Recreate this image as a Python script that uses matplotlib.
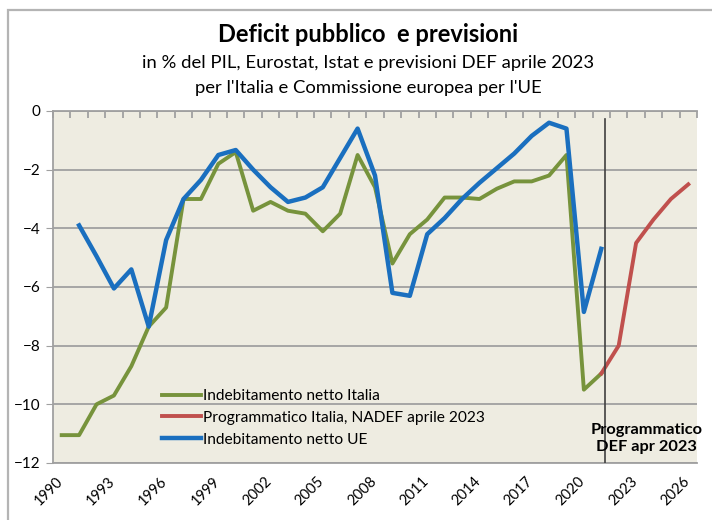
import matplotlib
matplotlib.use("Agg")
import matplotlib.pyplot as plt
import numpy as np
from matplotlib.patches import Rectangle
from matplotlib.transforms import ScaledTranslation

# Indebitamento netto Italia (% PIL), 1990-2021
italia_years = list(range(1990, 2022))
italia = [-11.05, -11.05, -10.0, -9.7, -8.7, -7.35, -6.7, -3.0, -3.0, -1.8,
          -1.4, -3.4, -3.1, -3.4, -3.5, -4.1, -3.5, -1.5, -2.6, -5.2,
          -4.2, -3.7, -2.95, -2.95, -3.0, -2.65, -2.4, -2.4, -2.2, -1.5,
          -9.5, -8.95]

# Programmatico Italia, DEF aprile 2023
prog_years = list(range(2021, 2027))
prog = [-8.95, -8.0, -4.5, -3.7, -3.0, -2.5]

# Indebitamento netto UE, 1991-2021
ue_years = list(range(1991, 2022))
ue = [-3.9, -4.95, -6.05, -5.4, -7.35, -4.4, -3.0, -2.35, -1.5, -1.33,
      -2.0, -2.6, -3.1, -2.95, -2.6, -1.6, -0.6, -2.2, -6.2, -6.3,
      -4.2, -3.65, -3.0, -2.45, -1.95, -1.45, -0.85, -0.4, -0.6, -6.85,
      -4.7]

label_years = list(range(1990, 2027, 3))
y_ticks = [0, -2, -4, -6, -8, -10, -12]

GREEN = "#77933C"
RED = "#C0504D"
BLUE = "#1A6FBF"
GRID = "#A0A0A0"

plt.rcParams["font.family"] = ["Lato", "DejaVu Sans"]


def plot_chart(path="out.png"):
    fig = plt.figure(figsize=(7.12, 5.2), dpi=100)
    # grey frame around the chart area
    fig.patches.append(Rectangle((8 / 712, -0.1), 1.2, 1.1 - 10 / 520,
                                 transform=fig.transFigure, fill=False,
                                 edgecolor="#B4B4B4", lw=1.6))

    ax = fig.add_axes([53 / 712, 57 / 520, 644 / 712, 352 / 520])
    ax.set_facecolor("#EEECE1")
    ax.set_xlim(1989.5, 2026.5)
    ax.set_ylim(-12, 0)

    ax.set_yticks(y_ticks)
    ax.yaxis.grid(True, color=GRID, lw=1.3)
    ax.set_axisbelow(True)
    for side in ["top", "bottom", "left"]:
        ax.spines[side].set_color(GRID)
        ax.spines[side].set_linewidth(1.3)
    ax.spines["right"].set_visible(False)

    ax.tick_params(axis="y", direction="out", length=5, color=GRID,
                   labelsize=11, pad=4)
    ax.set_xticks(label_years)
    ax.set_xticklabels([str(y) for y in label_years], rotation=45,
                       ha="right", fontsize=10.5)
    ax.tick_params(axis="x", which="major", length=0, pad=8)
    shift = ScaledTranslation(4 / 100, 0, fig.dpi_scale_trans)
    for lbl in ax.get_xticklabels():
        lbl.set_transform(lbl.get_transform() + shift)
    ax.set_xticks(np.arange(1989.5, 2027, 1), minor=True)
    ax.tick_params(axis="x", which="minor", bottom=False, top=True,
                   direction="in", length=5, color=GRID, width=1.3)

    ax.plot(italia_years, italia, color=GREEN, lw=2.8,
            label="Indebitamento netto Italia", zorder=3)
    ax.plot(prog_years, prog, color=RED, lw=2.8,
            label="Programmatico Italia, NADEF aprile 2023", zorder=3)
    ax.plot(ue_years, ue, color=BLUE, lw=3.2,
            label="Indebitamento netto UE", zorder=4)

    ax.plot([2021.2, 2021.2], [-0.27, -12], color="#404040", lw=1.2, zorder=5)
    ax.text(2023.6, -11.17, "Programmatico\nDEF apr 2023", ha="center",
            va="center", fontsize=11.8, fontweight="bold", linespacing=1.25,
            clip_on=False, zorder=6)

    ax.legend(loc="upper left", bbox_to_anchor=(162 / 712, 1 - 389 / 520),
              bbox_transform=fig.transFigure, frameon=False, fontsize=11.2,
              handlelength=2.5, handletextpad=0.15, labelspacing=0.5,
              borderpad=0, borderaxespad=0)

    fig.text(368 / 712, 1 - 34 / 520, "Deficit pubblico  e previsioni",
             ha="center", va="center", fontsize=17, fontweight="bold")
    fig.text(368 / 712, 1 - 63 / 520,
             "in % del PIL, Eurostat, Istat e previsioni DEF aprile 2023",
             ha="center", va="center", fontsize=13.3)
    fig.text(368 / 712, 1 - 88 / 520,
             "per l'Italia e Commissione europea per l'UE",
             ha="center", va="center", fontsize=13.3)

    plt.savefig(path, dpi=100)


if __name__ == "__main__":
    plot_chart()
